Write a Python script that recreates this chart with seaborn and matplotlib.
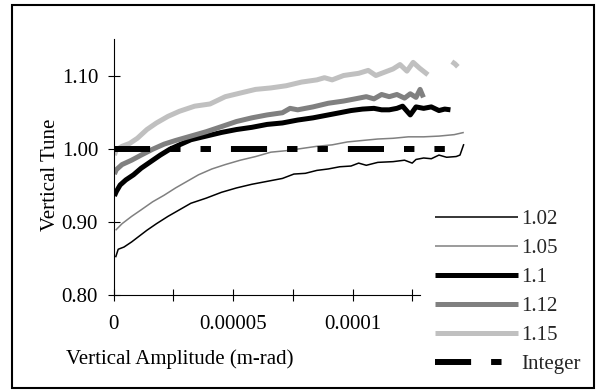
import numpy as np
import matplotlib
matplotlib.use("Agg")
import matplotlib.pyplot as plt
import matplotlib.patches as patches
import seaborn as sns

# amplitudes in micro m-rad (converted to m-rad when plotting)
AMP_102 = [0.8, 1.9, 4.3, 7.5, 10.7, 13.9, 17.9, 22.7, 27.5, 32.3, 38.7, 45.1, 51.4, 57.8,
           64.2, 70.6, 75.4, 80.2, 85.0, 89.8, 94.6, 99.3, 102.5, 105.7, 110.5, 116.9,
           121.7, 124.9, 126.5, 129.7, 132.9, 136.1, 139.3, 143.3, 144.9, 146.5]
TUNE_102 = [0.851, 0.862, 0.865, 0.872, 0.880, 0.888, 0.897, 0.907, 0.916, 0.925, 0.932,
            0.940, 0.946, 0.951, 0.955, 0.959, 0.965, 0.966, 0.970, 0.972, 0.975, 0.976,
            0.980, 0.977, 0.981, 0.982, 0.984, 0.980, 0.985, 0.987, 0.986, 0.991, 0.988,
            0.989, 0.991, 1.006]

AMP_105 = [0.8, 3.5, 7.5, 11.5, 16.3, 21.1, 25.9, 30.7, 35.5, 41.1, 46.7, 53.0, 59.4,
           65.8, 72.2, 78.6, 85.0, 91.4, 97.8, 104.1, 110.5, 116.9, 123.3, 129.7, 136.1,
           142.5, 146.5]
TUNE_105 = [0.888, 0.897, 0.907, 0.916, 0.927, 0.936, 0.946, 0.955, 0.964, 0.972, 0.978,
            0.984, 0.989, 0.995, 0.997, 1.000, 1.003, 1.005, 1.009, 1.011, 1.013, 1.014,
            1.016, 1.016, 1.017, 1.019, 1.022]

AMP_110 = [0.3, 1.1, 2.7, 5.1, 8.3, 11.5, 15.5, 19.5, 23.5, 27.5, 32.3, 38.7, 45.1, 51.4,
           57.8, 64.2, 70.6, 77.0, 83.4, 89.8, 94.6, 99.3, 104.1, 108.9, 112.1, 115.3,
           118.5, 120.9, 124.1, 126.5, 129.7, 132.9, 136.1, 138.5, 140.9]
TUNE_110 = [0.935, 0.941, 0.950, 0.957, 0.964, 0.973, 0.982, 0.991, 0.999, 1.005, 1.012,
            1.017, 1.022, 1.026, 1.029, 1.033, 1.035, 1.039, 1.042, 1.046, 1.049, 1.052,
            1.054, 1.055, 1.053, 1.053, 1.055, 1.058, 1.046, 1.057, 1.055, 1.057, 1.052,
            1.054, 1.053]

AMP_112 = [0.3, 1.1, 3.5, 7.5, 11.5, 16.3, 21.1, 25.9, 32.3, 38.7, 45.1, 51.4, 57.8, 64.2,
           70.6, 73.8, 77.0, 83.4, 89.8, 96.2, 101.0, 105.7, 108.9, 112.1, 115.3, 118.5,
           121.7, 124.1, 126.5, 128.2, 129.6]
TUNE_112 = [0.965, 0.971, 0.978, 0.984, 0.991, 0.999, 1.006, 1.011, 1.017, 1.023, 1.030,
            1.037, 1.042, 1.046, 1.049, 1.055, 1.053, 1.057, 1.062, 1.065, 1.068, 1.071,
            1.068, 1.074, 1.071, 1.074, 1.069, 1.075, 1.070, 1.081, 1.070]

AMP_115 = [0.3, 1.1, 3.5, 6.7, 9.9, 13.9, 17.9, 22.7, 27.5, 33.9, 40.3, 46.7, 53.0, 59.4,
           65.8, 72.2, 78.6, 85.0, 88.2, 91.4, 96.2, 102.5, 106.5, 109.7, 113.7, 116.9,
           119.8, 122.7, 125.3, 128.0, 131.5]
TUNE_115 = [0.991, 0.998, 1.003, 1.007, 1.014, 1.026, 1.035, 1.044, 1.051, 1.058, 1.061,
            1.071, 1.076, 1.081, 1.083, 1.086, 1.091, 1.094, 1.097, 1.094, 1.100, 1.103,
            1.107, 1.100, 1.105, 1.109, 1.115, 1.106, 1.118, 1.110, 1.101]
AMP_115_TAIL = [141.5, 142.8, 144.0]
TUNE_115_TAIL = [1.119, 1.116, 1.112]

AMP_INT = [0.3, 140.0]
TUNE_INT = [1.0, 1.0]

SERIES = [
    ("1.02", AMP_102, TUNE_102, "black", 1.1),
    ("1.05", AMP_105, TUNE_105, "#808080", 1.1),
    ("1.1", AMP_110, TUNE_110, "black", 3.6),
    ("1.12", AMP_112, TUNE_112, "#808080", 3.6),
    ("1.15", AMP_115, TUNE_115, "#c0c0c0", 3.6),
]

sns.set_style("white")
plt.rcParams["font.family"] = ["Liberation Serif", "DejaVu Serif"]
plt.rcParams["lines.scale_dashes"] = False
plt.rcParams["lines.solid_capstyle"] = "butt"
FS = 15

fig = plt.figure(figsize=(5.98, 3.92), dpi=100)
ax = fig.add_axes([0.1901, 0.2487, 0.5915, 0.6518])

handles = []
for name, amp, tune, color, lw in SERIES:
    sns.lineplot(x=np.array(amp) * 1e-6, y=tune, ax=ax, color=color, lw=lw,
                 sort=False, estimator=None, label=name)
    handles.append(ax.lines[-1])
    if name == "1.15":
        sns.lineplot(x=np.array(AMP_115_TAIL) * 1e-6, y=TUNE_115_TAIL, ax=ax,
                     color=color, lw=lw, sort=False, estimator=None)

sns.lineplot(x=np.array(AMP_INT) * 1e-6, y=TUNE_INT, ax=ax, color="black", lw=4.3,
             sort=False, estimator=None, label="Integer")
int_line = ax.lines[-1]
int_line.set_dashes((26, 14.4, 7.5, 14.4, 7.5, 14.4))
int_line.set_dash_capstyle("butt")
handles.append(int_line)

ax.set_xlim(0, 1.48e-4)
ax.set_ylim(0.80, 1.15)
ax.spines[["top", "right"]].set_visible(False)
ax.spines["bottom"].set_bounds(0, 1.28e-4)
for s in ["left", "bottom"]:
    ax.spines[s].set_color("black")
    ax.spines[s].set_linewidth(0.8)

ax.set_yticks([0.80, 0.90, 1.00, 1.10], ["0.80", "0.90", "1.00", "1.10"])
ax.set_xticks([0, 5e-5, 1e-4], ["0", "0.00005", "0.0001"])
ax.set_xticks([2.5e-5, 7.5e-5, 1.25e-4], minor=True)
ax.tick_params(axis="both", which="both", direction="inout", length=8.5, width=0.8,
               color="black", labelsize=FS, labelcolor="black",
               left=True, bottom=True)
ax.tick_params(axis="x", which="both", length=8, pad=11)
ax.tick_params(axis="y", pad=7)

ax.set_xlabel("Vertical Amplitude (m-rad)", fontsize=FS, color="black")
ax.set_ylabel("Vertical Tune", fontsize=FS, color="black")
ax.xaxis.set_label_coords(0.1875, -0.252)
ax.xaxis.label.set_va("center")
ax.yaxis.set_label_coords(-0.18, 0.47)
ax.yaxis.label.set_va("center")

leg = ax.legend(handles=handles, labels=["1.02", "1.05", "1.1", "1.12", "1.15", "Integer"],
                loc="upper left", bbox_to_anchor=(0.727, 0.465),
                bbox_transform=fig.transFigure, frameon=False, fontsize=FS,
                handlelength=4.0, handletextpad=0.15, labelspacing=0.45,
                borderpad=0, borderaxespad=0)

fig.patches.append(patches.Rectangle((11.5 / 598, 1 - 388 / 392), 582 / 598, 383 / 392,
                                     transform=fig.transFigure, fill=False,
                                     ec="black", lw=1.5))

fig.savefig("out.png", dpi=100)
